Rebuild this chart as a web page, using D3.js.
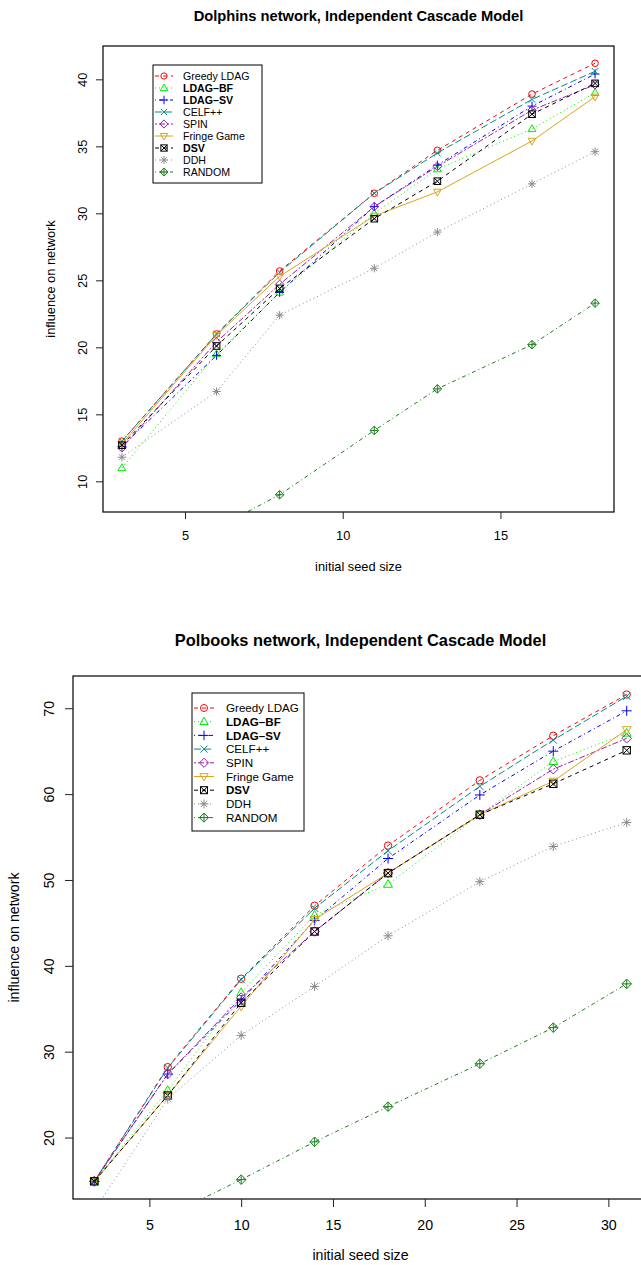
<!DOCTYPE html>
<html>
<head>
<meta charset="utf-8">
<script src="https://cdn.jsdelivr.net/npm/d3@7"></script>
<style>
  body { margin: 0; background: #fff; }
  svg { display: block; font-family: "Liberation Sans", Arial, sans-serif; }
</style>
</head>
<body>
<div id="chart"></div>
<script>
// seed sizes (x) for each network
const dolphinsSeeds = [3, 6, 8, 11, 13, 16, 18];
const polbooksSeeds = [2, 6, 10, 14, 18, 23, 27, 31];

const algorithms = ["Greedy LDAG", "LDAG\u2013BF", "LDAG\u2013SV", "CELF++", "SPIN", "Fringe Game", "DSV", "DDH", "RANDOM"];
const boldNames = ["LDAG\u2013BF", "LDAG\u2013SV", "DSV"];

// Dolphins network
const dolphinsGreedy = [13.0, 21.0, 25.7, 31.5, 34.7, 38.9, 41.2];
const dolphinsLdagBf = [11.0, 19.5, 24.1, 30.0, 33.3, 36.3, 39.0];
const dolphinsLdagSv = [12.6, 19.4, 24.1, 30.5, 33.6, 38.0, 40.4];
const dolphinsCelf   = [13.0, 21.0, 25.6, 31.5, 34.5, 38.5, 40.6];
const dolphinsSpin   = [12.5, 20.4, 24.7, 30.5, 33.5, 37.7, 39.6];
const dolphinsFringe = [12.8, 20.9, 25.3, 29.8, 31.6, 35.4, 38.7];
const dolphinsDsv    = [12.7, 20.1, 24.4, 29.6, 32.4, 37.4, 39.7];
const dolphinsDdh    = [11.8, 16.7, 22.4, 25.9, 28.6, 32.2, 34.6];
const dolphinsRandom = [4.0, 6.5, 9.0, 13.8, 16.9, 20.2, 23.3];

// Polbooks network
const polbooksGreedy = [14.9, 28.2, 38.5, 47.0, 54.0, 61.6, 66.8, 71.6];
const polbooksLdagBf = [14.9, 25.5, 36.9, 45.9, 49.5, 57.6, 63.8, 67.1];
const polbooksLdagSv = [14.9, 27.4, 36.0, 45.3, 52.5, 59.9, 65.0, 69.7];
const polbooksCelf   = [14.9, 28.1, 38.4, 46.7, 53.4, 60.9, 66.3, 71.4];
const polbooksSpin   = [14.9, 27.4, 36.3, 44.0, 50.8, 57.6, 62.9, 66.5];
const polbooksFringe = [14.9, 24.9, 35.3, 45.4, 50.8, 57.6, 61.5, 67.5];
const polbooksDsv    = [14.9, 24.9, 35.7, 44.0, 50.8, 57.6, 61.2, 65.1];
const polbooksDdh    = [11.5, 24.5, 31.9, 37.6, 43.5, 49.8, 53.9, 56.7];
const polbooksRandom = [7.0, 10.9, 15.1, 19.5, 23.6, 28.6, 32.8, 37.9];

// y limits used by the original plots (before R's 4% padding)
const dolphinsYLim = [9.0, 41.2];
const polbooksYLim = [15.1, 71.5];

const dolphinsXTicks = [5, 10, 15];
const dolphinsYTicks = [10, 15, 20, 25, 30, 35, 40];
const polbooksXTicks = [5, 10, 15, 20, 25, 30];
const polbooksYTicks = [20, 30, 40, 50, 60, 70];

// styling per algorithm (R colours / lty / pch)
const colors = ["#ff0000", "#00ee00", "#0000ff", "#008b8b", "#9a1fa6", "#daa520", "#000000", "#8a8a8a", "#1a7d1a"];
const dashes = ["4,4", "1,3", "1,3,4,3", "7,3", "2,2,6,2", null, "4,4", "1,3", "1,3,4,3"];
const shapes = ["circle", "triUp", "plus", "cross", "diamond", "triDown", "boxX", "star", "diamondPlus"];

const W = 641, H = 1265;
const svg = d3.select("#chart").append("svg")
  .attr("width", W).attr("height", H);

function pad(lim) {
  const d = (lim[1] - lim[0]) * 0.04;
  return [lim[0] - d, lim[1] + d];
}

function drawSymbol(g, shape, x, y, r, color) {
  const s = g.append("g").attr("transform", `translate(${x},${y})`)
    .attr("fill", "none").attr("stroke", color).attr("stroke-width", 1);
  const tri = r * 1.25;
  if (shape === "circle") s.append("circle").attr("r", r);
  if (shape === "triUp") s.append("path").attr("d", `M0,${-tri}L${tri * 0.95},${tri * 0.65}L${-tri * 0.95},${tri * 0.65}Z`);
  if (shape === "triDown") s.append("path").attr("d", `M0,${tri}L${tri * 0.95},${-tri * 0.65}L${-tri * 0.95},${-tri * 0.65}Z`);
  if (shape === "plus" || shape === "star" || shape === "diamondPlus") {
    const p = shape === "plus" ? r * 1.35 : r * 1.25;
    s.append("path").attr("d", `M${-p},0H${p}M0,${-p}V${p}`);
  }
  if (shape === "cross" || shape === "star" || shape === "boxX") {
    const c = shape === "star" ? r * 0.9 : r;
    s.append("path").attr("d", `M${-c},${-c}L${c},${c}M${-c},${c}L${c},${-c}`);
  }
  if (shape === "diamond" || shape === "diamondPlus") {
    const q = r * 1.3;
    s.append("path").attr("d", `M0,${-q}L${q},0L0,${q}L${-q},0Z`);
  }
  if (shape === "boxX") s.append("rect").attr("x", -r).attr("y", -r).attr("width", 2 * r).attr("height", 2 * r);
}

function drawChart(cfg) {
  const g = svg.append("g");
  const x = d3.scaleLinear().domain(pad(d3.extent(cfg.seeds))).range([cfg.left, cfg.right]);
  const y = d3.scaleLinear().domain(pad(cfg.yLim)).range([cfg.bottom, cfg.top]);

  const clipId = "clip-" + cfg.id;
  g.append("clipPath").attr("id", clipId).append("rect")
    .attr("x", cfg.left).attr("y", cfg.top)
    .attr("width", cfg.right - cfg.left).attr("height", cfg.bottom - cfg.top);

  const plot = g.append("g").attr("clip-path", `url(#${clipId})`);
  const line = d3.line().x(d => x(d[0])).y(d => y(d[1]));

  cfg.series.forEach((vals, i) => {
    const pts = cfg.seeds.map((s, j) => [s, vals[j]]);
    plot.append("path").datum(pts)
      .attr("d", line)
      .attr("fill", "none")
      .attr("stroke", colors[i])
      .attr("stroke-width", 1)
      .attr("stroke-dasharray", dashes[i]);
    pts.forEach(p => drawSymbol(plot, shapes[i], x(p[0]), y(p[1]), cfg.r, colors[i]));
  });

  // box
  g.append("rect")
    .attr("x", cfg.left).attr("y", cfg.top)
    .attr("width", cfg.right - cfg.left).attr("height", cfg.bottom - cfg.top)
    .attr("fill", "none").attr("stroke", "#000").attr("stroke-width", 1.2);

  // axes
  const xa = g.append("g").attr("transform", `translate(0,${cfg.bottom})`)
    .call(d3.axisBottom(x).tickValues(cfg.xTicks).tickSize(cfg.tick).tickFormat(d3.format("d")));
  const ya = g.append("g").attr("transform", `translate(${cfg.left},0)`)
    .call(d3.axisLeft(y).tickValues(cfg.yTicks).tickSize(cfg.tick).tickFormat(d3.format("d")));
  [xa, ya].forEach(a => {
    a.select(".domain").remove();
    a.selectAll("line").attr("stroke", "#222");
    a.selectAll("text").attr("font-size", cfg.font).attr("fill", "#000").attr("font-family", null);
  });
  xa.selectAll("text").attr("dy", null).attr("y", cfg.xLabelDist);
  ya.selectAll("text")
    .attr("x", null).attr("dy", null)
    .attr("text-anchor", "middle")
    .attr("transform", `translate(${-cfg.yLabelDist},0) rotate(-90)`);

  // titles
  g.append("text")
    .attr("x", (cfg.left + cfg.right) / 2).attr("y", cfg.titleY)
    .attr("text-anchor", "middle").attr("font-weight", "bold").attr("font-size", cfg.titleFont)
    .text(cfg.title);
  g.append("text")
    .attr("x", (cfg.left + cfg.right) / 2).attr("y", cfg.xTitleY)
    .attr("text-anchor", "middle").attr("font-size", cfg.font)
    .text("initial seed size");
  g.append("text")
    .attr("transform", `translate(${cfg.yTitleX},${(cfg.top + cfg.bottom) / 2}) rotate(-90)`)
    .attr("text-anchor", "middle").attr("font-size", cfg.font)
    .text("influence on network");

  // legend
  const lg = cfg.legend;
  g.append("rect")
    .attr("x", lg.x).attr("y", lg.y).attr("width", lg.w).attr("height", lg.h)
    .attr("fill", "#fff").attr("stroke", "#000").attr("stroke-width", 1);
  algorithms.forEach((name, i) => {
    const ry = lg.y + lg.first + i * lg.step;
    g.append("line")
      .attr("x1", lg.x + 2).attr("x2", lg.x + 2 + lg.lineW).attr("y1", ry).attr("y2", ry)
      .attr("stroke", colors[i]).attr("stroke-width", 1).attr("stroke-dasharray", dashes[i]);
    drawSymbol(g, shapes[i], lg.x + 2 + lg.lineW / 2, ry, cfg.r * 0.95, colors[i]);
    g.append("text")
      .attr("x", lg.x + lg.textX).attr("y", ry).attr("dy", "0.36em")
      .attr("font-size", lg.font)
      .attr("font-weight", boldNames.includes(name) ? "bold" : null)
      .text(name);
  });
}

drawChart({
  id: "dolphins",
  title: "Dolphins network, Independent Cascade Model",
  seeds: dolphinsSeeds,
  series: [dolphinsGreedy, dolphinsLdagBf, dolphinsLdagSv, dolphinsCelf, dolphinsSpin, dolphinsFringe, dolphinsDsv, dolphinsDdh, dolphinsRandom],
  yLim: dolphinsYLim,
  xTicks: dolphinsXTicks, yTicks: dolphinsYTicks,
  left: 103, right: 614, top: 46, bottom: 512,
  r: 3.3, tick: 7, font: 12.8, titleFont: 14.7, titleY: 21, xTitleY: 571, yTitleX: 54.5, yLabelDist: 16.5, xLabelDist: 28,
  legend: { x: 153, y: 65, w: 109, h: 118, first: 11, step: 12, lineW: 18, textX: 30, font: 10.6 }
});

drawChart({
  id: "polbooks",
  title: "Polbooks network, Independent Cascade Model",
  seeds: polbooksSeeds,
  series: [polbooksGreedy, polbooksLdagBf, polbooksLdagSv, polbooksCelf, polbooksSpin, polbooksFringe, polbooksDsv, polbooksDdh, polbooksRandom],
  yLim: polbooksYLim,
  xTicks: polbooksXTicks, yTicks: polbooksYTicks,
  left: 73, right: 648, top: 676, bottom: 1199,
  r: 3.7, tick: 8, font: 14.2, titleFont: 16.4, titleY: 646, xTitleY: 1260, yTitleX: 19, yLabelDist: 19, xLabelDist: 31,
  legend: { x: 192, y: 693, w: 112, h: 138, first: 15, step: 13.7, lineW: 20, textX: 34, font: 11.6 }
});
</script>
</body>
</html>
